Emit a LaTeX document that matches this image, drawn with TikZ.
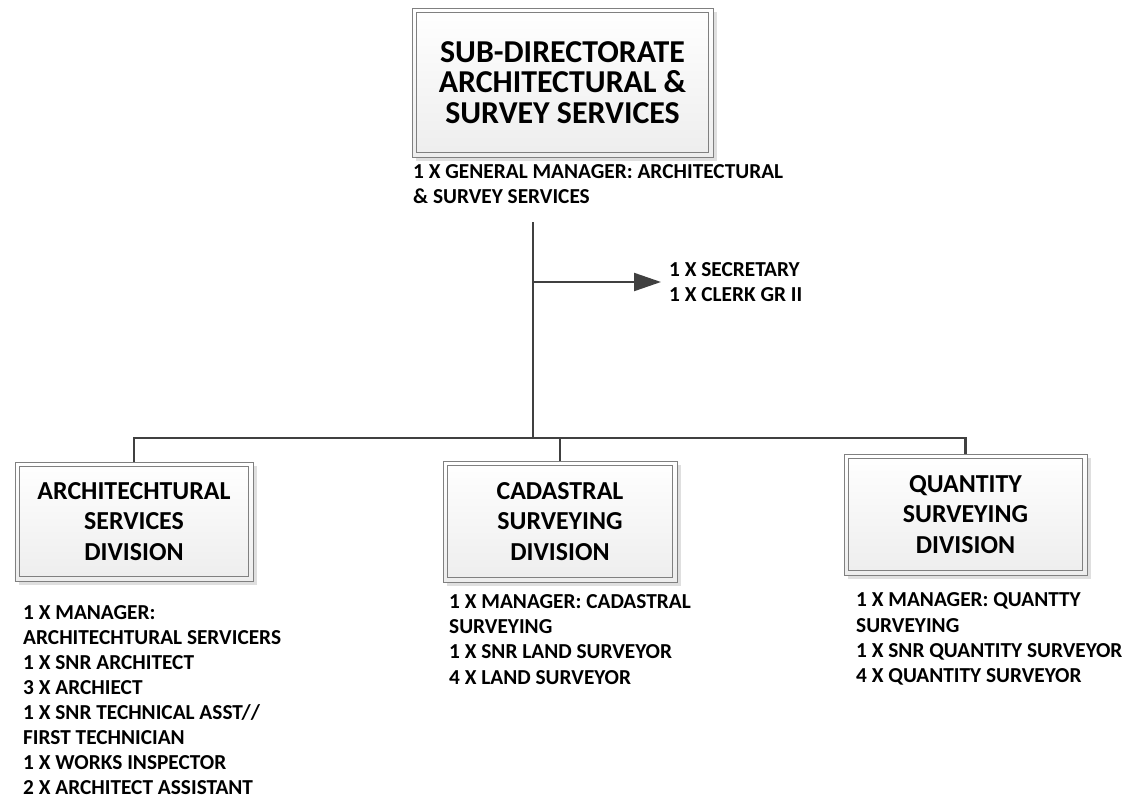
\documentclass[tikz,border=0pt]{standalone}
\usepackage{fontspec}
\setmainfont{Carlito}
\usetikzlibrary{arrows.meta,shadows}
\definecolor{linec}{HTML}{404040}
\definecolor{framec}{HTML}{808080}
\begin{document}
\begin{tikzpicture}[x=1bp,y=-1bp,
  orgbox/.style={draw=framec, line width=0.8bp, top color=white, bottom color=gray!14,
    align=center, inner sep=0pt, text=black,
    drop shadow={shadow xshift=4bp, shadow yshift=-4bp, fill=gray!25, opacity=1}},
  toptitle/.style={font={\fontsize{32}{30.5}\selectfont\bfseries}},
  divtitle/.style={font={\fontsize{26}{31}\selectfont\bfseries}},
  innerframe/.style={draw=framec, line width=0.8bp},
  listtext/.style={align=left, anchor=west, inner sep=0pt, font={\fontsize{21.4}{25.2}\selectfont\bfseries}},
  conn/.style={draw=linec, line width=2.2bp},
  arrowconn/.style={conn, -{Triangle[length=27bp,width=18bp]}}
]
\useasboundingbox (0,0) rectangle (1130,799);

% boxes
\node[orgbox, toptitle, minimum width=301bp, minimum height=149bp] (top) at (562.5,82.5)
  {SUB-DIRECTORATE\\ARCHITECTURAL \&\\SURVEY SERVICES};
\node[orgbox, divtitle, minimum width=238bp, minimum height=119bp] (arch) at (134,521.5)
  {ARCHITECHTURAL\\SERVICES\\DIVISION};
\node[orgbox, divtitle, minimum width=234bp, minimum height=121bp] (cad) at (560,521.5)
  {CADASTRAL\\SURVEYING\\DIVISION};
\node[orgbox, divtitle, minimum width=243bp, minimum height=121bp] (qty) at (965.5,514.5)
  {QUANTITY\\SURVEYING\\DIVISION};

\foreach \b in {top,arch,cad,qty}{
  \draw[innerframe] ([xshift=5bp,yshift=-5bp]\b.north west) rectangle ([xshift=-5bp,yshift=5bp]\b.south east);
}

% text lists
\node[listtext] (gm) at (413,184.5) {1 X GENERAL MANAGER: ARCHITECTURAL\\\& SURVEY SERVICES};
\node[listtext] (sec) at (669,282) {1 X SECRETARY\\1 X CLERK GR II};
\node[listtext] (archlist) at (23,700) {1 X MANAGER:\\ARCHITECHTURAL SERVICERS\\1 X SNR ARCHITECT\\3 X ARCHIECT\\1 X SNR TECHNICAL ASST//\\FIRST TECHNICIAN\\1 X WORKS INSPECTOR\\2 X ARCHITECT ASSISTANT};
\node[listtext] (cadlist) at (449,639.5) {1 X MANAGER: CADASTRAL\\SURVEYING\\1 X SNR LAND SURVEYOR\\4 X LAND SURVEYOR};
\node[listtext] (qtylist) at (856,639) {1 X MANAGER: QUANTTY\\SURVEYING\\1 X SNR QUANTITY SURVEYOR\\4 X QUANTITY SURVEYOR};

% connectors
\coordinate (trunktop) at (533,222);
\coordinate (branch) at (533,282);
\coordinate (bus) at (533,438);
\draw[conn] (trunktop) -- (bus);
\draw[arrowconn, shorten >=8bp] (branch) -- (sec.west |- branch);
\draw[conn] (arch.north) |- (bus) -| (qty.north);
\draw[conn] (cad.north) -- (cad.north |- bus);
\end{tikzpicture}
\end{document}
